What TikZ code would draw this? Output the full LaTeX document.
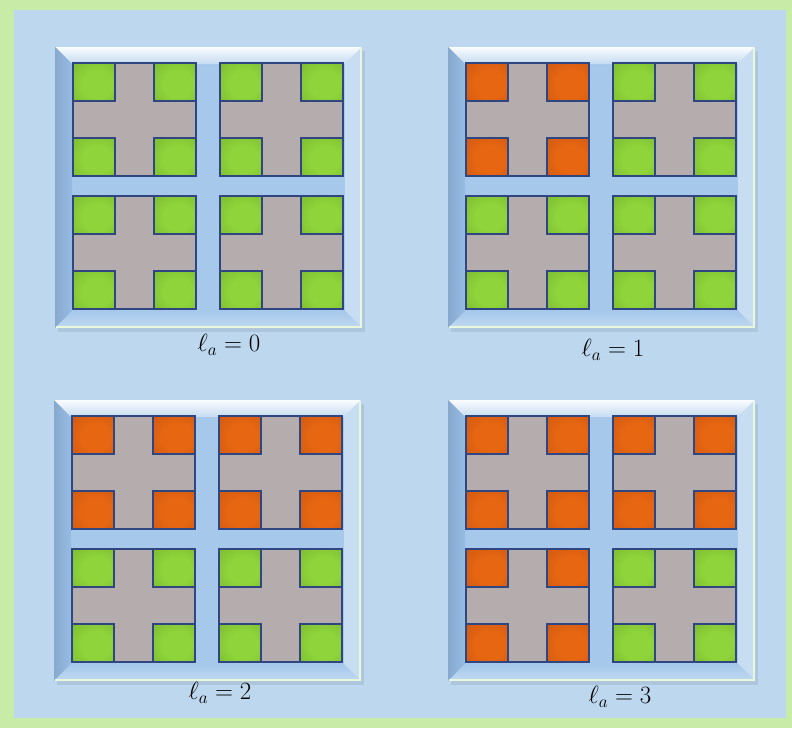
\documentclass[tikz,border=0pt]{standalone}
\usepackage{tikz}
\usetikzlibrary{calc}
\usepackage{xcolor}
\definecolor{sky}{RGB}{189,215,238}
\definecolor{lime}{RGB}{200,236,168}
\definecolor{face}{RGB}{166,200,235}
\definecolor{bevleft}{RGB}{150,188,228}
\definecolor{bevright}{RGB}{198,221,242}
\definecolor{cross}{RGB}{181,173,173}
\definecolor{edge}{RGB}{48,70,128}
\definecolor{greenlt}{RGB}{142,212,58}
\definecolor{greendk}{RGB}{84,126,32}
\definecolor{orangelt}{RGB}{230,102,18}
\definecolor{orangedk}{RGB}{156,58,14}
\colorlet{tilelt}{greenlt}
\colorlet{tiledk}{greendk}
\pgfdeclareradialshading[tilelt,tiledk]{glow}{\pgfpoint{5bp}{-4bp}}{color(0bp)=(tilelt); color(18bp)=(tilelt); color(40bp)=(tilelt!70!tiledk); color(62bp)=(tiledk)}

\begin{document}
\begin{tikzpicture}[x=1pt,y=-1pt]
  \fill[lime] (0,0) rectangle (792,728);
  \fill[sky] (14,10) rectangle (786,718);
  \foreach \x/\y/\lx/\ly/\lev in {55/47/229/345/0,448/47/613/350/1,54/400/220/693/2,448/400/620/697/3}{
    % frame with bevel
    \fill[black,opacity=0.08] (\x+3,\y+4) rectangle ++(307,281);
    \fill[face] (\x,\y) rectangle ++(307,281);
    \shade[top color=white!92!sky,bottom color=white!35!face] (\x,\y) -- ++(307,0) -- ++(-17,17) -- (\x+17,\y+17) -- cycle;
    \shade[left color=bevleft!90!black,right color=bevleft] (\x,\y) -- (\x+17,\y+17) -- (\x+17,\y+264) -- (\x,\y+281) -- cycle;
    \fill[bevright] (\x+307,\y) -- (\x+290,\y+17) -- (\x+290,\y+264) -- (\x+307,\y+281) -- cycle;
    \shade[top color=face,bottom color=white!30!face] (\x,\y+281) -- (\x+17,\y+264) -- (\x+290,\y+264) -- (\x+307,\y+281) -- cycle;
    \draw[white!60!lime,line width=1.5pt] (\x+1,\y+280) -- (\x+306,\y+280) -- (\x+306,\y+1);
    \foreach \i in {0,...,3}{
      \pgfmathsetmacro\tx{\x+18+147*mod(\i,2)}
      \pgfmathsetmacro\ty{\y+16+133*int(\i/2)}
      \ifnum\i<\lev
        \colorlet{tilelt}{orangelt}\colorlet{tiledk}{orangedk}
      \else
        \colorlet{tilelt}{greenlt}\colorlet{tiledk}{greendk}
      \fi
      \fill[cross] (\tx,\ty) rectangle ++(123,113);
      \foreach \cx/\cy in {0/0,81/0,0/75,81/75}
        \shadedraw[shading=glow,draw=edge,line width=1.5pt] (\tx+\cx,\ty+\cy) rectangle ++(42,38);
      \draw[edge,line width=1.8pt] (\tx,\ty) rectangle ++(123,113);
    }
    \node[font=\fontsize{24}{28}\selectfont] (lab\lev) at (\lx,\ly) {$\ell_a = \lev$};
  }
\end{tikzpicture}
\end{document}
